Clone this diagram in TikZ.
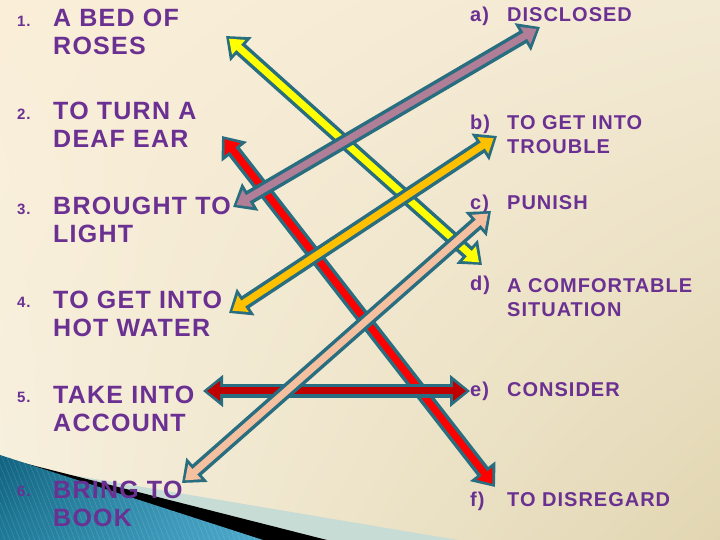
\documentclass[tikz,border=0pt]{standalone}
\usepackage{fontspec}
\setmainfont{Liberation Sans}[LetterSpace=5]
\usetikzlibrary{arrows.meta,shadings}
\definecolor{bgtl}{RGB}{250,238,216}
\definecolor{bgtr}{RGB}{243,234,212}
\definecolor{bgbl}{RGB}{246,240,222}
\definecolor{bgbr}{RGB}{226,214,178}
\definecolor{txtpurple}{RGB}{106,48,146}
\definecolor{arrteal}{RGB}{40,110,128}
\definecolor{arryellow}{RGB}{255,255,0}
\definecolor{arrmauve}{RGB}{176,126,150}
\definecolor{arrred}{RGB}{255,0,0}
\definecolor{arrorange}{RGB}{255,192,0}
\definecolor{arrdark}{RGB}{192,0,0}
\definecolor{arrpeach}{RGB}{245,192,160}
\definecolor{bluedark}{RGB}{16,98,128}
\definecolor{bluemid}{RGB}{30,122,152}
\definecolor{bluelight}{RGB}{78,170,204}
\definecolor{paleband}{RGB}{200,220,214}
\tikzset{
  phrase/.style={anchor=base west,inner sep=0pt,align=left,text=txtpurple,
    font=\bfseries\fontsize{25}{28.5}\selectfont},
  meaning/.style={anchor=base west,inner sep=0pt,align=left,text=txtpurple,
    font=\bfseries\fontsize{20}{24.5}\selectfont},
  numlabel/.style={anchor=base west,inner sep=0pt,text=txtpurple,
    font=\bfseries\fontsize{15}{18}\selectfont},
  arrowrim/.style={arrteal,line width=14pt,
    {Triangle[width=31pt,length=20pt]}-{Triangle[width=31pt,length=20pt]}},
  arrowcore/.style={#1,line width=7pt,shorten <=4pt,shorten >=4pt,
    {Triangle[width=19pt,length=13pt]}-{Triangle[width=19pt,length=13pt]}}
}
\newcommand{\matcharrow}[3]{%
  \draw[arrowrim] (#2) -- (#3);
  \draw[arrowcore=#1] (#2) -- (#3);}
\begin{document}
\begin{tikzpicture}[x=1pt,y=1pt]
  % background
  \shade[upper left=bgtl,upper right=bgtr,lower left=bgbl,lower right=bgbr]
    (0,0) rectangle (720,540);
  \useasboundingbox (0,0) rectangle (720,540);
  % corner swoosh
  \fill[paleband] (0,77) -- (458,0) -- (0,0) -- cycle;
  \fill[black] (0,83) -- (327,0) -- (0,0) -- cycle;
  \shade[upper left=bluedark,upper right=bluelight,lower left=bluemid,lower right=bluelight]
    (0,85) -- (263,0) -- (0,0) -- cycle;
  \begin{scope}
    \clip (0,85) -- (263,0) -- (0,0) -- cycle;
    \foreach \i in {0,5,...,320}
      \draw[white,opacity=0.15,line width=0.5pt] (\i,0) -- ++(-40,100);
  \end{scope}

  % left column
  \node[numlabel] (n1) at (17,513) {1.};
  \node[phrase] (p1) at (53,485) {A BED OF\\ROSES};
  \node[numlabel] (n2) at (17,420) {2.};
  \node[phrase] (p2) at (53,392) {TO TURN A\\DEAF EAR};
  \node[numlabel] (n3) at (17,325) {3.};
  \node[phrase] (p3) at (53,297) {BROUGHT TO\\LIGHT};
  \node[numlabel] (n4) at (17,232) {4.};
  \node[phrase] (p4) at (53,203) {TO GET INTO\\HOT WATER};
  \node[numlabel] (n5) at (17,137) {5.};
  \node[phrase] (p5) at (53,108) {TAKE INTO\\ACCOUNT};
  \node[numlabel] (n6) at (17,43) {6.};
  \node[phrase] (p6) at (53,13) {BRING TO\\BOOK};

  % right column
  \node[meaning] (la) at (470,518) {a)};
  \node[meaning] (ma) at (507,518) {DISCLOSED};
  \node[meaning] (lb) at (470,410) {b)};
  \node[meaning] (mb) at (507,386) {TO GET INTO\\TROUBLE};
  \node[meaning] (lc) at (470,330) {c)};
  \node[meaning] (mc) at (507,330) {PUNISH};
  \node[meaning] (ld) at (470,249) {d)};
  \node[meaning] (md) at (507,223) {A COMFORTABLE\\SITUATION};
  \node[meaning] (le) at (470,143) {e)};
  \node[meaning] (me) at (507,143) {CONSIDER};
  \node[meaning] (lf) at (470,33) {f)};
  \node[meaning] (mf) at (507,33) {TO DISREGARD};

  % arrow ends
  \coordinate (tipbed) at (226,504);
  \coordinate (tipdeaf) at (222,404);
  \coordinate (tiplight) at (233,333);
  \coordinate (tiphot) at (229,227);
  \coordinate (tipaccount) at (203,149);
  \coordinate (tipbook) at (182,57);
  \coordinate (tipdisclosed) at (540,513);
  \coordinate (tiptrouble) at (497,404);
  \coordinate (tippunish) at (491,329);
  \coordinate (tipcomfort) at (482,275);
  \coordinate (tipconsider) at (470,149);
  \coordinate (tipdisregard) at (495,53);

  % matching arrows
  \matcharrow{arrred}{tipdeaf}{tipdisregard}
  \matcharrow{arryellow}{tipbed}{tipcomfort}
  \matcharrow{arrmauve}{tiplight}{tipdisclosed}
  \matcharrow{arrorange}{tiphot}{tiptrouble}
  \matcharrow{arrdark}{tipaccount}{tipconsider}
  \matcharrow{arrpeach}{tipbook}{tippunish}
\end{tikzpicture}
\end{document}
